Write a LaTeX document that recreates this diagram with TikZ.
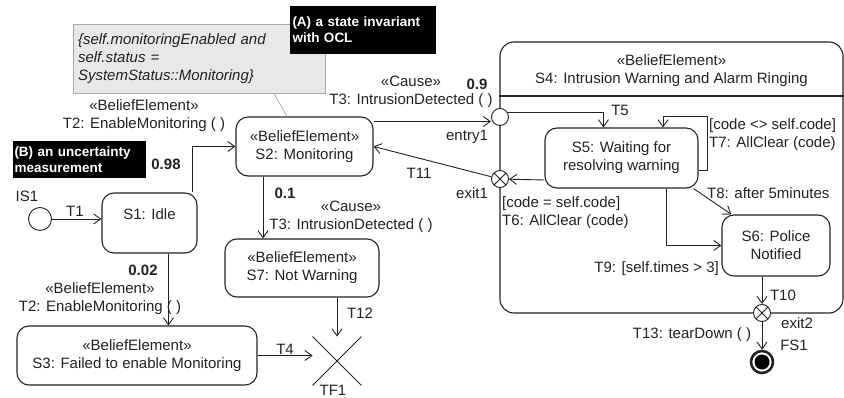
\documentclass[tikz,border=0pt]{standalone}
\usepackage{fontspec}
\setmainfont{Liberation Sans}
\usetikzlibrary{arrows.meta,shapes.misc}
\definecolor{ink}{HTML}{222222}
\definecolor{notefill}{HTML}{E8E8E8}
\definecolor{noteline}{HTML}{A8A8A8}
\begin{document}
\begin{tikzpicture}[x=1pt,y=-1pt,
  txt/.style={font=\fontsize{15}{18}\selectfont, text=ink, inner sep=0pt, align=center},
  prob/.style={font=\bfseries\fontsize{15}{18}\selectfont, text=ink, inner sep=0pt},
  state/.style={txt, draw=ink, line width=1.1pt, rounded corners=12pt},
  tr/.style={draw=ink, line width=0.9pt, -{Straight Barb[length=7pt,width=10pt]}},
  pseudo/.style={circle, draw=ink, line width=0.9pt, fill=white, inner sep=0pt, minimum size=17pt},
  exitpt/.style={pseudo, path picture={
      \draw[ink, line width=0.8pt] (path picture bounding box.north west) -- (path picture bounding box.south east)
            (path picture bounding box.north east) -- (path picture bounding box.south west);}},
  tag/.style={fill=black, text=white, font=\bfseries\fontsize{13.5}{16}\selectfont, align=left, inner sep=0pt, text width=#1},
]
\useasboundingbox (0,0) rectangle (844,398);

% OCL state invariant note and callouts
\node[draw=noteline, fill=notefill, line width=0.8pt, minimum width=252pt, minimum height=69pt,
      text width=242pt, align=left, inner sep=5pt, text=ink,
      font=\itshape\fontsize{15}{18}\selectfont] (note) at (199,58.5)
  {\{self.monitoringEnabled and\\ self.status =\\ SystemStatus::Monitoring\}};
\node[tag=140pt, minimum width=145pt, minimum height=48pt, inner xsep=3pt] (tagA) at (362.5,30)
  {(A) a state invariant\\ with OCL};
\node[tag=129pt, minimum width=132pt, minimum height=37pt, inner xsep=2pt] (tagB) at (79,159.5)
  {(B) an uncertainty\\ measurement};

% composite state S4
\node[draw=ink, line width=1.1pt, rounded corners=14pt, minimum width=343pt, minimum height=271pt] (S4) at (671.5,177.5) {};
\node[txt] (S4title) at (671.5,70.5) {«BeliefElement»\\ S4: Intrusion Warning and Alarm Ringing};
\draw[ink, line width=1.1pt] (S4.west |- 0,96) -- (S4.east |- 0,96);

% simple states
\node[state, minimum width=95pt,  minimum height=60pt] (S1) at (149.5,223) {S1: Idle\\ \mbox{}};
\node[state, minimum width=137pt, minimum height=59pt] (S2) at (304.5,146.5) {«BeliefElement»\\ S2: Monitoring};
\node[state, minimum width=240pt, minimum height=59pt] (S3) at (137,355.5) {«BeliefElement»\\ S3: Failed to enable Monitoring};
\node[state, minimum width=154pt, minimum height=58pt] (S7) at (302,268) {«BeliefElement»\\ S7: Not Warning};
\node[state, minimum width=153pt, minimum height=60pt] (S5) at (621.5,158) {S5: Waiting for\\ resolving warning};
\node[state, minimum width=108pt, minimum height=61pt] (S6) at (776,245.5) {S6: Police\\ Notified};

% pseudostates
\node[circle, draw=ink, line width=0.9pt, minimum size=23pt, inner sep=0pt] (IS1) at (40,219) {};
\node[pseudo] (entry1) at (500,117) {};
\node[exitpt] (exit1) at (500,179) {};
\node[exitpt] (exit2) at (762,313) {};
\node[circle, draw=ink, line width=2.6pt, minimum size=22pt, inner sep=0pt,
      path picture={\fill[black] (path picture bounding box.center) circle (7.5pt);}] (FS1) at (762,362) {};
\node[cross out, draw=ink, line width=0.9pt, minimum size=48pt, inner sep=0pt] (TF1) at (337,361) {};

% transitions
\draw[tr] (IS1.east) -- (S1.west |- IS1.east);
\draw[tr] ([xshift=-5pt]S1.north east) |- (S2.west);
\draw[tr] ([xshift=19pt]S1.south) -- ([xshift=19pt]S1.south |- S3.north);
\draw[tr] ([xshift=-41.5pt]S2.south) -- ([xshift=-41.5pt]S2.south |- S7.north);
\draw[tr] ([yshift=25pt]S2.east) -- ([yshift=25pt]S2.east -| entry1.west);
\draw[tr] (entry1.30) -| ([xshift=-18pt]S5.north);
\draw[tr] ([yshift=-12pt]S5.east) -- ++(9,0) -- ++(0,-54) -| ([xshift=41.5pt]S5.north);
\draw[tr] ([yshift=-22pt]S5.west) -- (exit1);
\draw[tr] (exit1) -- (S2.east);
\draw[tr] ([xshift=44.5pt]S5.south) |- (S6.west);
\draw[tr] ([xshift=-5pt]S5.south east) -- ([xshift=10pt]S6.north west);
\draw[tr] ([xshift=-14pt]S6.south) -- (exit2);
\draw[tr] (exit2) -- (FS1);
\draw[tr] (S3.east) -- (S3.east -| TF1.west);
\draw[tr] (TF1.north |- S7.south) -- (TF1.north);
\draw[noteline, line width=0.8pt] ([xshift=75pt]note.south) -- ([xshift=-17.5pt]S2.north);

% transition and pseudostate labels
\node[txt] (lIS1) at (27,196) {IS1};
\node[txt] (lT1) at (75,211) {T1};
\node[prob] (p098) at (166,164) {0.98};
\node[txt] (lT2a) at (144,116) {«BeliefElement»\\ T2: EnableMonitoring ( )};
\node[prob] (p002) at (143,270) {0.02};
\node[txt] (lT2b) at (100,299) {«BeliefElement»\\ T2: EnableMonitoring ( )};
\node[prob] (p01) at (285,193) {0.1};
\node[txt] (lT3b) at (351,217) {«Cause»\\ T3: IntrusionDetected ( )};
\node[txt] (lT3a) at (411,92) {«Cause»\\ T3: IntrusionDetected ( )};
\node[prob] (p09) at (477,84) {0.9};
\node[txt] (lentry1) at (467,137) {entry1};
\node[txt] (lexit1) at (472,193) {exit1};
\node[txt] (lT11) at (419,173) {T11};
\node[txt] (lT5) at (620,110) {T5};
\node[txt, anchor=west, align=left] (lT7) at (709,135) {[code <> self.code]\\ T7: AllClear (code)};
\node[txt, anchor=west, align=left] (lT6) at (502,212.5) {[code = self.code]\\ T6: AllClear (code)};
\node[txt, anchor=west] (lT8) at (707,193) {T8: after 5minutes};
\node[txt, anchor=east] (lT9) at (719,269) {T9: [self.times > 3]};
\node[txt] (lT10) at (783,295) {T10};
\node[txt] (lexit2) at (797,323) {exit2};
\node[txt] (lFS1) at (794,345) {FS1};
\node[txt] (lT13) at (692,335) {T13: tearDown ( )};
\node[txt] (lT4) at (285,349) {T4};
\node[txt] (lT12) at (360,313) {T12};
\node[txt] (lTF1) at (333,390) {TF1};
\end{tikzpicture}
\end{document}
